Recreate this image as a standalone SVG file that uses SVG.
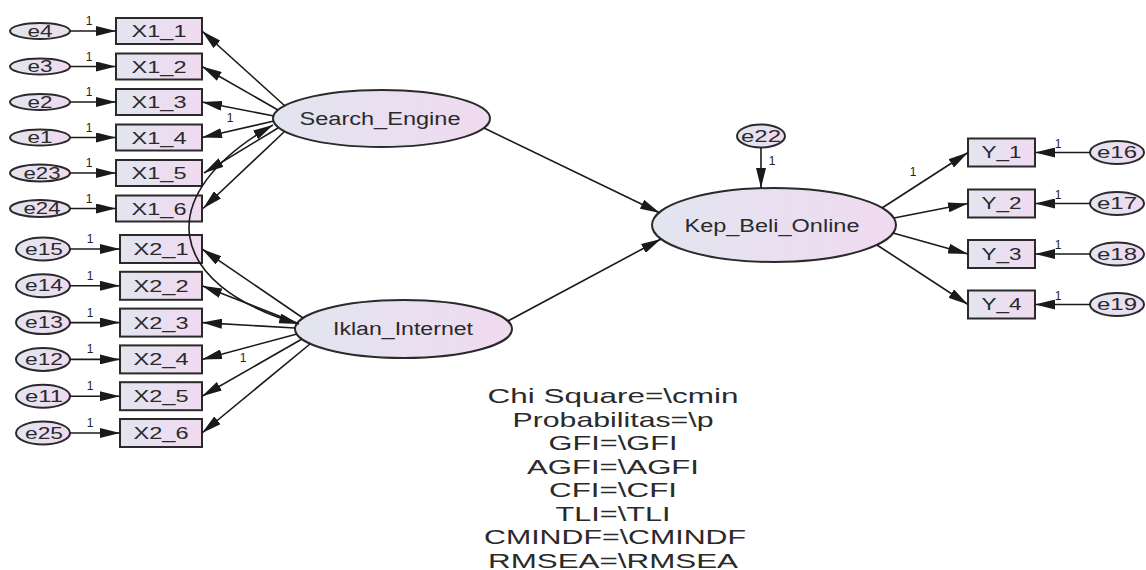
<svg xmlns="http://www.w3.org/2000/svg" width="1146" height="570" viewBox="0 0 1146 570">
<defs>
<linearGradient id="g" x1="0" y1="0" x2="1" y2="0">
<stop offset="0" stop-color="#e2e5f0"/>
<stop offset="1" stop-color="#f0daf0"/>
</linearGradient>
<marker id="ah" markerUnits="userSpaceOnUse" markerWidth="20" markerHeight="10" refX="20" refY="5" orient="auto-start-reverse" viewBox="0 0 20 10">
<path d="M0,0 L20,5 L0,10 z" fill="#1a1a1a"/>
</marker>
<style>
.sh{fill:url(#g);stroke:#2a2a2a;stroke-width:2}
.t{font-family:"Liberation Sans",Arial,sans-serif;fill:#2a2a2a;text-anchor:middle}
.lb{font-size:17px}
.el{font-size:16px}
.nm{font-size:18px}
.one{font-family:"Liberation Sans",Arial,sans-serif;fill:#222222;font-size:12px;text-anchor:middle}
.fit{font-family:"Liberation Sans",Arial,sans-serif;fill:#2a2a2a;font-size:21px;text-anchor:middle}
.c line,.c path{stroke:#1a1a1a;stroke-width:1.6;fill:none;marker-end:url(#ah)}
</style>
</defs>
<rect width="1146" height="570" fill="#ffffff"/>

<!-- X1 error nodes -->
<g id="e4"><ellipse class="sh" cx="40" cy="31" rx="30" ry="8"/><text class="t el" x="40" y="36.5" textLength="25" lengthAdjust="spacingAndGlyphs">e4</text></g>
<g id="e3"><ellipse class="sh" cx="40" cy="66.5" rx="30" ry="8"/><text class="t el" x="40" y="72" textLength="25" lengthAdjust="spacingAndGlyphs">e3</text></g>
<g id="e2"><ellipse class="sh" cx="40" cy="102" rx="30" ry="8"/><text class="t el" x="40" y="107.5" textLength="25" lengthAdjust="spacingAndGlyphs">e2</text></g>
<g id="e1"><ellipse class="sh" cx="40" cy="137.5" rx="30" ry="8"/><text class="t el" x="40" y="143" textLength="25" lengthAdjust="spacingAndGlyphs">e1</text></g>
<g id="e23"><ellipse class="sh" cx="40" cy="173" rx="30" ry="8.5"/><text class="t el" x="42" y="178.5" textLength="37" lengthAdjust="spacingAndGlyphs">e23</text></g>
<g id="e24"><ellipse class="sh" cx="40" cy="208.5" rx="30" ry="8.5"/><text class="t el" x="42" y="214" textLength="37" lengthAdjust="spacingAndGlyphs">e24</text></g>

<!-- X1 indicators -->
<g id="X1_1"><rect class="sh" x="116" y="18" width="86" height="26"/><text class="t lb" x="159" y="37" textLength="55" lengthAdjust="spacingAndGlyphs">X1_1</text></g>
<g id="X1_2"><rect class="sh" x="116" y="53.5" width="86" height="26"/><text class="t lb" x="159" y="72.5" textLength="55" lengthAdjust="spacingAndGlyphs">X1_2</text></g>
<g id="X1_3"><rect class="sh" x="116" y="89" width="86" height="26"/><text class="t lb" x="159" y="108" textLength="55" lengthAdjust="spacingAndGlyphs">X1_3</text></g>
<g id="X1_4"><rect class="sh" x="116" y="124.5" width="86" height="26"/><text class="t lb" x="159" y="143.5" textLength="55" lengthAdjust="spacingAndGlyphs">X1_4</text></g>
<g id="X1_5"><rect class="sh" x="116" y="160" width="86" height="26"/><text class="t lb" x="159" y="179" textLength="55" lengthAdjust="spacingAndGlyphs">X1_5</text></g>
<g id="X1_6"><rect class="sh" x="116" y="195.5" width="86" height="26"/><text class="t lb" x="159" y="214.5" textLength="55" lengthAdjust="spacingAndGlyphs">X1_6</text></g>

<!-- X2 error nodes -->
<g id="e15"><ellipse class="sh" cx="43" cy="249" rx="27" ry="11.5"/><text class="t el" x="44" y="254.5" textLength="38" lengthAdjust="spacingAndGlyphs">e15</text></g>
<g id="e14"><ellipse class="sh" cx="43" cy="285.8" rx="27" ry="11.5"/><text class="t el" x="44" y="291.3" textLength="38" lengthAdjust="spacingAndGlyphs">e14</text></g>
<g id="e13"><ellipse class="sh" cx="43" cy="322.6" rx="27" ry="11.5"/><text class="t el" x="44" y="328.1" textLength="38" lengthAdjust="spacingAndGlyphs">e13</text></g>
<g id="e12"><ellipse class="sh" cx="43" cy="359.4" rx="27" ry="11.5"/><text class="t el" x="44" y="364.9" textLength="38" lengthAdjust="spacingAndGlyphs">e12</text></g>
<g id="e11"><ellipse class="sh" cx="43" cy="396.2" rx="27" ry="11.5"/><text class="t el" x="44" y="401.7" textLength="38" lengthAdjust="spacingAndGlyphs">e11</text></g>
<g id="e25"><ellipse class="sh" cx="43" cy="433" rx="27" ry="11.5"/><text class="t el" x="44" y="438.5" textLength="38" lengthAdjust="spacingAndGlyphs">e25</text></g>

<!-- X2 indicators -->
<g id="X2_1"><rect class="sh" x="120" y="235" width="82" height="28"/><text class="t lb" x="161" y="255" textLength="55" lengthAdjust="spacingAndGlyphs">X2_1</text></g>
<g id="X2_2"><rect class="sh" x="120" y="271.8" width="82" height="28"/><text class="t lb" x="161" y="291.8" textLength="55" lengthAdjust="spacingAndGlyphs">X2_2</text></g>
<g id="X2_3"><rect class="sh" x="120" y="308.6" width="82" height="28"/><text class="t lb" x="161" y="328.6" textLength="55" lengthAdjust="spacingAndGlyphs">X2_3</text></g>
<g id="X2_4"><rect class="sh" x="120" y="345.4" width="82" height="28"/><text class="t lb" x="161" y="365.4" textLength="55" lengthAdjust="spacingAndGlyphs">X2_4</text></g>
<g id="X2_5"><rect class="sh" x="120" y="382.2" width="82" height="28"/><text class="t lb" x="161" y="402.2" textLength="55" lengthAdjust="spacingAndGlyphs">X2_5</text></g>
<g id="X2_6"><rect class="sh" x="120" y="419" width="82" height="28"/><text class="t lb" x="161" y="439" textLength="55" lengthAdjust="spacingAndGlyphs">X2_6</text></g>

<!-- latent variables -->
<g id="Search_Engine"><ellipse class="sh" cx="381.5" cy="118.5" rx="108.5" ry="28.5"/><text class="t nm" x="380" y="125" textLength="161" lengthAdjust="spacingAndGlyphs">Search_Engine</text></g>
<g id="Iklan_Internet"><ellipse class="sh" cx="403.5" cy="329" rx="108.5" ry="29"/><text class="t nm" x="403" y="335" textLength="140" lengthAdjust="spacingAndGlyphs">Iklan_Internet</text></g>
<g id="Kep_Beli_Online"><ellipse class="sh" cx="774" cy="225" rx="122" ry="37"/><text class="t nm" x="772" y="232" textLength="175" lengthAdjust="spacingAndGlyphs">Kep_Beli_Online</text></g>
<g id="e22"><ellipse class="sh" cx="761" cy="136" rx="24" ry="11.5"/><text class="t el" x="761" y="141.5" textLength="40" lengthAdjust="spacingAndGlyphs">e22</text></g>

<!-- Y indicators -->
<g id="Y_1"><rect class="sh" x="968" y="138.5" width="67" height="28"/><text class="t lb" x="1001.5" y="158" textLength="40" lengthAdjust="spacingAndGlyphs">Y_1</text></g>
<g id="Y_2"><rect class="sh" x="968" y="189.5" width="67" height="28"/><text class="t lb" x="1001.5" y="209" textLength="40" lengthAdjust="spacingAndGlyphs">Y_2</text></g>
<g id="Y_3"><rect class="sh" x="968" y="240" width="67" height="28"/><text class="t lb" x="1001.5" y="259.5" textLength="40" lengthAdjust="spacingAndGlyphs">Y_3</text></g>
<g id="Y_4"><rect class="sh" x="968" y="290.5" width="67" height="28"/><text class="t lb" x="1001.5" y="310" textLength="40" lengthAdjust="spacingAndGlyphs">Y_4</text></g>

<!-- Y error nodes -->
<g id="e16"><ellipse class="sh" cx="1117" cy="152.5" rx="27" ry="11.5"/><text class="t el" x="1117" y="158" textLength="40" lengthAdjust="spacingAndGlyphs">e16</text></g>
<g id="e17"><ellipse class="sh" cx="1117" cy="203.5" rx="27" ry="11.5"/><text class="t el" x="1117" y="209" textLength="40" lengthAdjust="spacingAndGlyphs">e17</text></g>
<g id="e18"><ellipse class="sh" cx="1117" cy="254" rx="27" ry="11.5"/><text class="t el" x="1117" y="259.5" textLength="40" lengthAdjust="spacingAndGlyphs">e18</text></g>
<g id="e19"><ellipse class="sh" cx="1117" cy="304.5" rx="27" ry="11.5"/><text class="t el" x="1117" y="310" textLength="40" lengthAdjust="spacingAndGlyphs">e19</text></g>

<g id="connectors" class="c">
<!-- error to X1 -->
<line x1="70" y1="31" x2="116" y2="31"/>
<line x1="70" y1="66.5" x2="116" y2="66.5"/>
<line x1="70" y1="102" x2="116" y2="102"/>
<line x1="70" y1="137.5" x2="116" y2="137.5"/>
<line x1="70" y1="173" x2="116" y2="173"/>
<line x1="70" y1="208.5" x2="116" y2="208.5"/>
<!-- error to X2 -->
<line x1="70" y1="249" x2="120" y2="249"/>
<line x1="70" y1="285.8" x2="120" y2="285.8"/>
<line x1="70" y1="322.6" x2="120" y2="322.6"/>
<line x1="70" y1="359.4" x2="120" y2="359.4"/>
<line x1="70" y1="396.2" x2="120" y2="396.2"/>
<line x1="70" y1="433" x2="120" y2="433"/>
<!-- Search_Engine loadings -->
<line x1="285" y1="106" x2="202" y2="31"/>
<line x1="278" y1="110" x2="202" y2="66.5"/>
<line x1="274" y1="116" x2="202" y2="102"/>
<line x1="274" y1="121" x2="202" y2="137.5"/>
<line x1="278" y1="128" x2="204" y2="173"/>
<line x1="284" y1="132" x2="203" y2="208.5"/>
<!-- Iklan_Internet loadings -->
<line x1="303" y1="318" x2="202" y2="249"/>
<line x1="297" y1="323" x2="202" y2="285.8"/>
<line x1="295" y1="328" x2="202" y2="322.6"/>
<line x1="297" y1="334" x2="202" y2="359.4"/>
<line x1="302" y1="339" x2="202" y2="396.2"/>
<line x1="310" y1="344" x2="202" y2="433"/>
<!-- covariance -->
<path d="M273,125 C150,195 165,285 299,324" marker-start="url(#ah)"/>
<!-- structural -->
<line x1="484" y1="128" x2="660" y2="213"/>
<line x1="508" y1="321" x2="661" y2="239"/>
<line x1="761" y1="147.5" x2="761" y2="188"/>
<!-- Kep loadings -->
<line x1="882" y1="208" x2="968" y2="152.5"/>
<line x1="894" y1="218" x2="968" y2="203.5"/>
<line x1="893" y1="233" x2="968" y2="254"/>
<line x1="877" y1="245" x2="968" y2="304.5"/>
<!-- errors to Y -->
<line x1="1090" y1="152.5" x2="1035" y2="152.5"/>
<line x1="1090" y1="203.5" x2="1035" y2="203.5"/>
<line x1="1090" y1="254" x2="1035" y2="254"/>
<line x1="1090" y1="304.5" x2="1035" y2="304.5"/>
</g>

<g id="weights">
<text class="one" x="89" y="25">1</text>
<text class="one" x="89" y="60.5">1</text>
<text class="one" x="89" y="96">1</text>
<text class="one" x="89" y="131.5">1</text>
<text class="one" x="89" y="167">1</text>
<text class="one" x="89" y="202.5">1</text>
<text class="one" x="90" y="243">1</text>
<text class="one" x="90" y="279.8">1</text>
<text class="one" x="90" y="316.6">1</text>
<text class="one" x="90" y="353.4">1</text>
<text class="one" x="90" y="390.2">1</text>
<text class="one" x="90" y="427">1</text>
<text class="one" x="230" y="122">1</text>
<text class="one" x="243" y="362">1</text>
<text class="one" x="772" y="165">1</text>
<text class="one" x="913" y="176">1</text>
<text class="one" x="1058" y="147.5">1</text>
<text class="one" x="1058" y="198.5">1</text>
<text class="one" x="1058" y="249">1</text>
<text class="one" x="1058" y="299.5">1</text>
</g>

<!-- fit indices -->
<g id="fit">
<text class="fit" x="613" y="403" textLength="251" lengthAdjust="spacingAndGlyphs">Chi Square=\cmin</text>
<text class="fit" x="613" y="426.5" textLength="201" lengthAdjust="spacingAndGlyphs">Probabilitas=\p</text>
<text class="fit" x="613" y="450" textLength="129" lengthAdjust="spacingAndGlyphs">GFI=\GFI</text>
<text class="fit" x="613" y="473.5" textLength="172" lengthAdjust="spacingAndGlyphs">AGFI=\AGFI</text>
<text class="fit" x="613" y="497" textLength="128" lengthAdjust="spacingAndGlyphs">CFI=\CFI</text>
<text class="fit" x="613" y="520.5" textLength="115" lengthAdjust="spacingAndGlyphs">TLI=\TLI</text>
<text class="fit" x="615" y="544" textLength="262" lengthAdjust="spacingAndGlyphs">CMINDF=\CMINDF</text>
<text class="fit" x="613" y="567.5" textLength="250" lengthAdjust="spacingAndGlyphs">RMSEA=\RMSEA</text>
</g>
</svg>
